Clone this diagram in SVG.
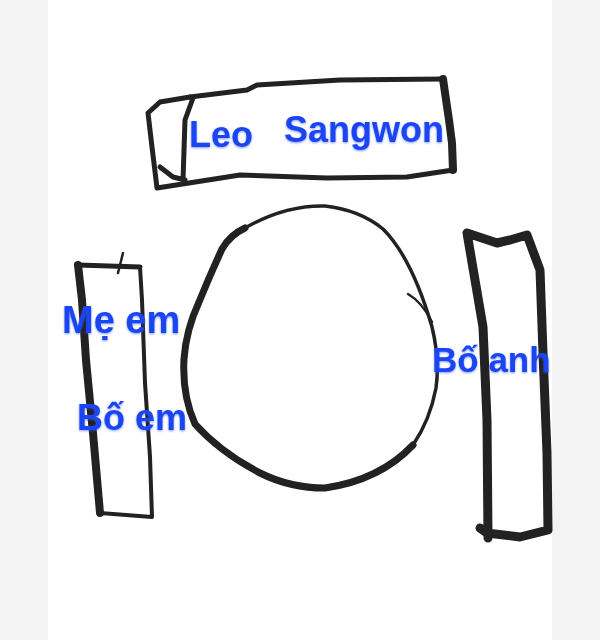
<svg xmlns="http://www.w3.org/2000/svg" width="600" height="640" viewBox="0 0 600 640">
<defs>
<filter id="glow" x="-10%" y="-30%" width="120%" height="160%">
<feDropShadow dx="0" dy="1" stdDeviation="1.2" flood-color="#3355ff" flood-opacity="0.6"/>
</filter>
</defs>
<style>
.ink{fill:none;stroke:#222;stroke-linecap:round;stroke-linejoin:round}
.lbl{font-family:"Liberation Sans",Arial,sans-serif;font-weight:bold;fill:#1c45f2;filter:url(#glow)}
</style>
<rect x="0" y="0" width="600" height="640" fill="#f3f3f3"/>
<rect x="48" y="0" width="504" height="640" fill="#ffffff"/>
<g id="top-table">
<path class="ink" stroke-width="5" d="M190,97 L247,90 L257,85 L340,80 L443,79"/>
<path class="ink" stroke-width="8" d="M443,79 L449,120 L452,143 L453,170"/>
<path class="ink" stroke-width="5" d="M453,170 L407,177 L327,178 L240,175 L157,188 L152,147 L148,113 L160,102 L190,97"/>
<path class="ink" stroke-width="5" d="M193,98 L185,120 L183,180 M160,167 L173,177 L185,180"/>
<text class="lbl" x="189" y="147" font-size="36">Leo</text>
<text class="lbl" x="284" y="142" font-size="36">Sangwon</text>
</g>
<g id="round-table">
<path class="ink" stroke-width="7" d="M413,445 Q380,480 325,488 Q290,488 260,473 Q220,452 195,424 Q182,395 184,359 Q186,330 199,302 Q210,275 222,249 Q230,235 245,228"/>
<path class="ink" stroke-width="3.5" d="M245,228 Q285,205 325,206 Q360,210 383,229 Q412,258 432,327 Q440,360 436,388 Q430,420 413,445"/>
<path class="ink" stroke-width="2.5" d="M408,294 Q422,302 432,322"/>
</g>
<g id="left-table">
<path class="ink" stroke-width="8" d="M100,513 L93,433 L86,360 L82,300 L78,265"/>
<path class="ink" stroke-width="5" d="M78,265 L140,267"/>
<path class="ink" stroke-width="4" d="M140,267 L142,300 L145,383 L150,457 L152,517 L100,513"/>
<path class="ink" stroke-width="2.5" d="M123,253 L118,273"/>
<text class="lbl" x="62" y="333" font-size="38">Mẹ em</text>
<text class="lbl" x="77" y="430" font-size="36">Bố em</text>
</g>
<g id="right-table">
<path class="ink" stroke-width="9" d="M467,233 L497,243 L510,240 L527,235 L540,270 L543,353 L547,453 L548,530 L520,537 L487,533 L480,528 M488,538 L487,420 L483,327 L467,233"/>
<text class="lbl" x="432" y="372" font-size="35">Bố anh</text>
</g>
</svg>
